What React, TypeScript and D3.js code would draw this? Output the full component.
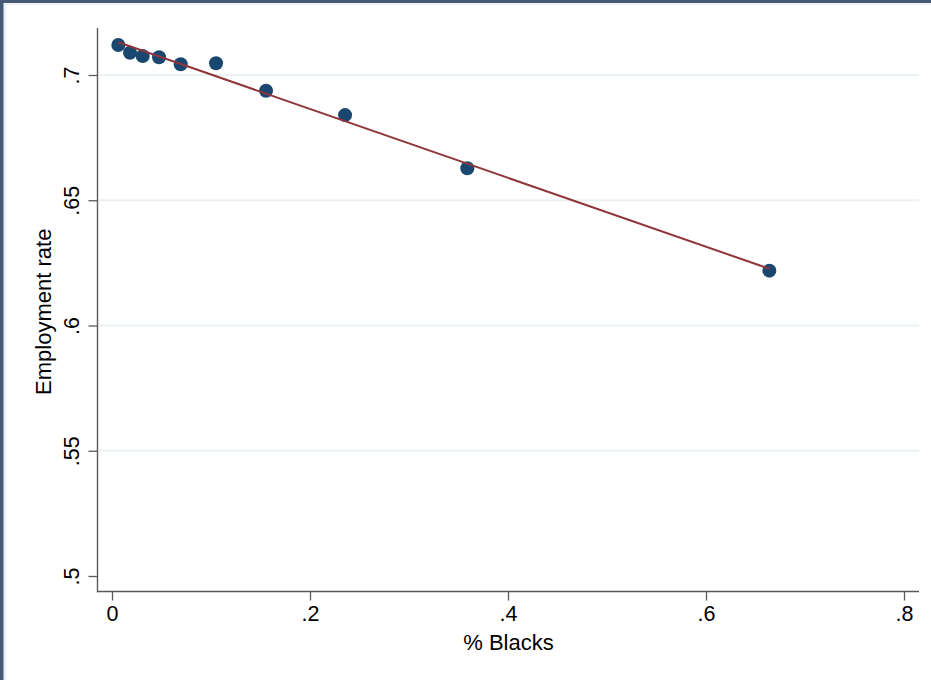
import React, {useEffect, useRef} from 'react';
import * as d3 from 'd3';

// share of Black residents (binned) and employment rate
const pctBlack = [0.0064, 0.0182, 0.031, 0.0475, 0.0694, 0.1051, 0.1556, 0.2354, 0.3589, 0.664];
const empRate = [0.712, 0.7089, 0.7076, 0.7071, 0.7043, 0.7047, 0.6937, 0.684, 0.6628, 0.6219];

const xTicks = [0, 0.2, 0.4, 0.6, 0.8];
const yTicks = [0.5, 0.55, 0.6, 0.65, 0.7];
const yGrid = [0.55, 0.6, 0.65, 0.7];

const W = 931;
const H = 680;
const FONT = '"Liberation Sans", Arial, Helvetica, sans-serif';

const fmt = (d: number) => (d === 0 ? '0' : String(d).replace(/^0\./, '.'));

const App = () => {
    const svgRef = useRef<SVGSVGElement>(null);

    useEffect(() => {
        const svg = d3.select(svgRef.current);
        svg.selectAll('*').remove();

        // screenshot frame
        svg.append('rect').attr('width', W).attr('height', H).attr('fill', '#475a78');
        svg.append('rect').attr('x', 3.5).attr('y', 3).attr('width', W).attr('height', H).attr('fill', '#eef2f6');
        svg.append('rect').attr('x', 6).attr('y', 5).attr('width', W).attr('height', H).attr('fill', '#ffffff');

        // plot region edges
        const left = 97.5, right = 919, top = 28, bottom = 591.5;

        const x = d3.scaleLinear().domain([0, 0.8]).range([112, 904]);
        const y = d3.scaleLinear().domain([0.5, 0.7]).range([576, 75]);

        // grid lines
        svg.append('g')
            .selectAll('line')
            .data(yGrid)
            .enter()
            .append('line')
            .attr('x1', left + 1)
            .attr('x2', right)
            .attr('y1', d => y(d))
            .attr('y2', d => y(d))
            .attr('stroke', '#eaf1f3')
            .attr('stroke-width', 2);

        // y axis
        const yAxis = d3.axisLeft(y).tickValues(yTicks).tickFormat(d => fmt(+d)).tickSize(9).tickSizeOuter(0);
        const gy = svg.append('g').attr('transform', `translate(${left}, 0)`).call(yAxis);
        gy.select('.domain').remove();
        gy.selectAll('line').attr('stroke', '#5a5a5a').attr('stroke-width', 1.3);
        gy.selectAll('text')
            .attr('x', null)
            .attr('dy', null)
            .attr('text-anchor', 'middle')
            .attr('transform', 'translate(-18.5, 0) rotate(-90)')
            .attr('fill', '#000')
            .style('font-family', FONT)
            .style('font-size', '21.5px');

        // x axis
        const xAxis = d3.axisBottom(x).tickValues(xTicks).tickFormat(d => fmt(+d)).tickSize(9).tickSizeOuter(0);
        const gx = svg.append('g').attr('transform', `translate(0, ${bottom})`).call(xAxis);
        gx.select('.domain').remove();
        gx.selectAll('line').attr('stroke', '#5a5a5a').attr('stroke-width', 1.3);
        gx.selectAll('text')
            .attr('y', 29.5)
            .attr('dy', null)
            .attr('fill', '#000')
            .style('font-family', FONT)
            .style('font-size', '21.5px');

        // axis lines
        svg.append('line').attr('x1', left).attr('x2', left).attr('y1', top).attr('y2', bottom + 0.7)
            .attr('stroke', '#5a5a5a').attr('stroke-width', 1.4);
        svg.append('line').attr('x1', left).attr('x2', right).attr('y1', bottom).attr('y2', bottom)
            .attr('stroke', '#5a5a5a').attr('stroke-width', 1.4);

        // axis titles
        svg.append('text')
            .attr('x', 508.5)
            .attr('y', 650)
            .attr('text-anchor', 'middle')
            .style('font-family', FONT)
            .style('font-size', '22px')
            .text('% Blacks');

        svg.append('text')
            .attr('transform', `translate(51, ${(top + bottom) / 2 + 2}) rotate(-90)`)
            .attr('text-anchor', 'middle')
            .style('font-family', FONT)
            .style('font-size', '22px')
            .text('Employment rate');

        // points
        const data = pctBlack.map((v, i) => ({x: v, y: empRate[i]}));
        svg.append('g')
            .selectAll('circle')
            .data(data)
            .enter()
            .append('circle')
            .attr('cx', d => x(d.x))
            .attr('cy', d => y(d.y))
            .attr('r', 7)
            .attr('fill', '#1a476f');

        // linear fit (OLS) over the data range
        const mx = d3.mean(pctBlack) as number;
        const my = d3.mean(empRate) as number;
        const sxy = d3.sum(data, d => (d.x - mx) * (d.y - my));
        const sxx = d3.sum(data, d => (d.x - mx) ** 2);
        const b = sxy / sxx;
        const a = my - b * mx;
        const [x0, x1] = d3.extent(pctBlack) as [number, number];

        const line = d3.line<number>().x(d => x(d)).y(d => y(a + b * d));
        svg.append('path')
            .datum([x0, x1])
            .attr('d', line)
            .attr('fill', 'none')
            .attr('stroke', '#90353b')
            .attr('stroke-width', 2);
    }, []);

    return (
        <svg ref={svgRef} width={W} height={H} style={{position: 'absolute', left: 0, top: 0}}></svg>
    );
};

export default App;
